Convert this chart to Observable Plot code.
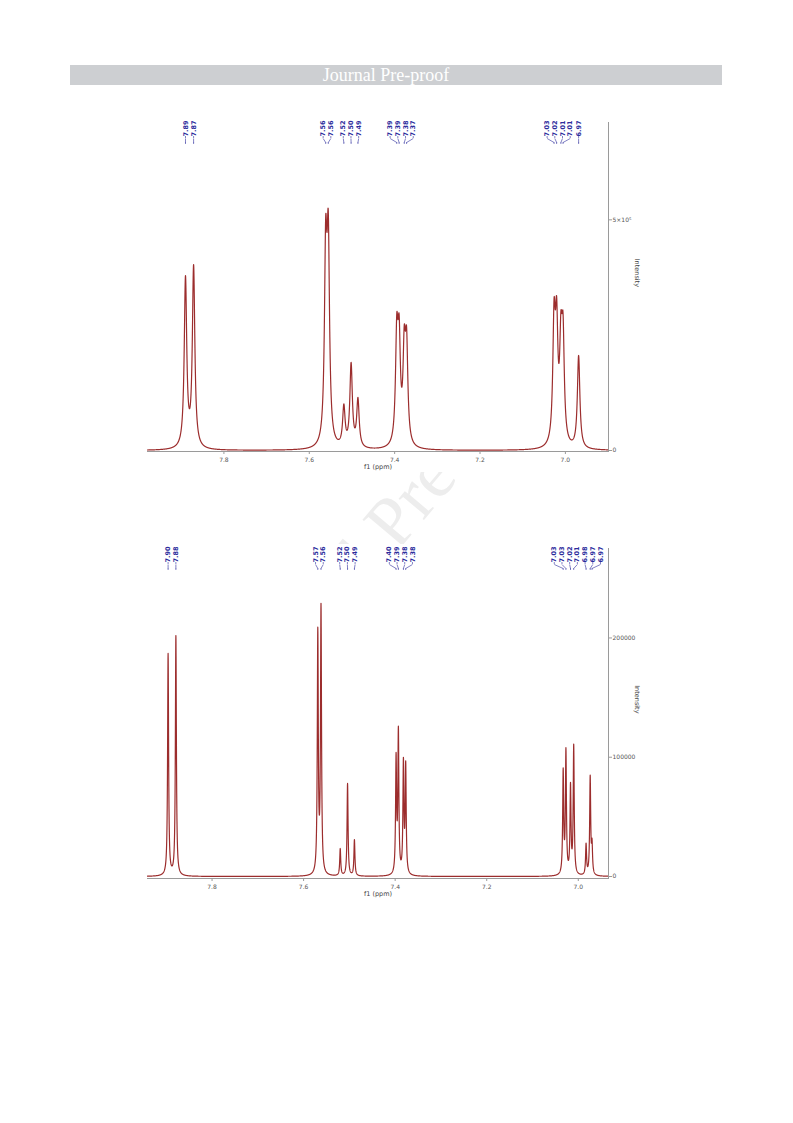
<!DOCTYPE html>
<html><head><meta charset="utf-8">
<script src="https://cdn.jsdelivr.net/npm/d3@7"></script>
<script src="https://cdn.jsdelivr.net/npm/@observablehq/plot@0.6"></script>
<style>
body{margin:0;background:#fff;}
#page{position:relative;width:793px;height:1123px;overflow:hidden;background:#fff;}
#hdr{position:absolute;left:70px;top:65px;width:652px;height:20px;background:#cdcfd2;color:#fff;font-family:"Liberation Serif","DejaVu Serif",serif;font-size:18px;line-height:20px;text-align:center;box-sizing:border-box;padding-right:20px;}
#wm{position:absolute;left:394px;top:519px;transform:translate(-50%,-50%) rotate(-50deg);font-family:"Liberation Serif",serif;font-size:72px;color:#ededed;white-space:nowrap;}
#top{position:absolute;left:0;top:100px;}
#bot{position:absolute;left:0;top:544px;}
</style></head>
<body>
<div id="page">
  <div id="wm">Journal Pre-proof</div>
  <div id="hdr">Journal Pre-proof</div>
  <div id="top"></div>
  <div id="bot"></div>
</div>
<script>
// ---------- DATA ----------
const xTicks = [7.8, 7.6, 7.4, 7.2, 7.0];
const xLabel = "f1 (ppm)";
const yLabel = "Intensity";

// upper spectrum
const topPeakPpm    = [7.890, 7.871, 7.5615, 7.5555, 7.519, 7.502, 7.486, 7.3950, 7.3895, 7.3775, 7.3720, 7.0265, 7.0205, 7.0105, 7.0055, 6.969];
const topPeakHeight = [379000, 403000, 508000, 520000, 101000, 191000, 115000, 297000, 295000, 272000, 268000, 330000, 334000, 302000, 298000, 206000];
const topPeakLabels = ["7.89","7.87","7.56","7.56","7.52","7.50","7.49","7.39","7.39","7.38","7.37","7.03","7.02","7.01","7.01","6.97"];
const topYTicks = [0, 500000];
const topYTickLabels = ["0", "5×10⁵"];
const topXDomain = [7.979, 6.899];
const topYMax = 711000;
const topLineWidth = 0.0035;   // Lorentzian half width (ppm)

// lower spectrum
const botPeakPpm    = [7.896, 7.879, 7.569, 7.562, 7.520, 7.504, 7.489, 7.398, 7.393, 7.382, 7.377, 7.033, 7.027, 7.017, 7.010, 6.983, 6.974, 6.970];
const botPeakHeight = [187000, 202000, 209000, 229000, 23500, 78000, 31000, 104000, 126000, 100000, 97000, 91000, 108000, 79000, 111000, 28000, 85000, 32000];
const botPeakLabels = ["7.90","7.88","7.57","7.56","7.52","7.50","7.49","7.40","7.39","7.38","7.38","7.03","7.03","7.02","7.01","6.98","6.97","6.97"];
const botYTicks = [0, 100000, 200000];
const botYTickLabels = ["0", "100000", "200000"];
const botXDomain = [7.941, 6.934];
const botYMax = 275000;
const botLineWidth = 0.0013;

// ---------- helpers ----------
const lor = (d, g) => 1 / (1 + (d / g) * (d / g));
function solve(M, b) {
  const n = b.length, A = M.map((r, i) => [...r, b[i]]);
  for (let k = 0; k < n; k++) {
    let p = k;
    for (let i = k + 1; i < n; i++) if (Math.abs(A[i][k]) > Math.abs(A[p][k])) p = i;
    [A[k], A[p]] = [A[p], A[k]];
    for (let i = k + 1; i < n; i++) {
      const f = A[i][k] / A[k][k];
      for (let j = k; j <= n; j++) A[i][j] -= f * A[k][j];
    }
  }
  const x = new Array(n).fill(0);
  for (let i = n - 1; i >= 0; i--) {
    let s = A[i][n];
    for (let j = i + 1; j < n; j++) s -= A[i][j] * x[j];
    x[i] = s / A[i][i];
  }
  return x;
}
function spectrum(ppm, heights, g, domain) {
  const M = ppm.map(p => ppm.map(q => lor(p - q, g)));
  const amp = solve(M, heights).map(a => Math.max(0, a));
  const xs = [];
  const hi = Math.max(...domain), lo = Math.min(...domain);
  for (let v = hi; v >= lo; v -= 0.0002) xs.push(v);
  xs.push(...ppm);
  xs.sort((a, b) => b - a);
  return xs.map(x => ({x, y: amp.reduce((s, a, i) => s + a * lor(x - ppm[i], g), 0)}));
}
// spread peak labels so they do not overlap (cluster centring)
function spread(px, gap) {
  let cl = px.map(p => ({sum: p, n: 1}));
  let changed = true;
  while (changed) {
    changed = false;
    for (let i = 0; i < cl.length - 1; i++) {
      const c = cl[i], d = cl[i + 1];
      const cEnd = c.sum / c.n + (c.n - 1) / 2 * gap;
      const dStart = d.sum / d.n - (d.n - 1) / 2 * gap;
      if (dStart - cEnd < gap) { cl.splice(i, 2, {sum: c.sum + d.sum, n: c.n + d.n}); changed = true; break; }
    }
  }
  const out = [];
  for (const c of cl) { const m = c.sum / c.n; for (let k = 0; k < c.n; k++) out.push(m + (k - (c.n - 1) / 2) * gap); }
  return out;
}

const W = 793, ML = 147, MR = 185;
const spectrumColor = "#9c2d2d", labelColor = "#2b2b9c", axisColor = "#9a9a9a", tickText = "#555";

function chart({ppm, heights, labels, g, xDomain, yMax, yTicks, yTickLabels, height, marginTop, marginBottom, insetBottom}) {
  const H = height;
  const xs = Plot.scale({x: {domain: xDomain, range: [ML, W - MR]}});
  const y0 = H - marginBottom - insetBottom;
  const ys = Plot.scale({y: {domain: [0, yMax], range: [y0, marginTop]}});
  const lpx = spread(ppm.map(p => xs.apply(p)), 7.7);
  const lab = labels.map((t, i) => ({label: t, lx: xs.invert(lpx[i]), px: ppm[i]}));
  const yT = ys.invert(marginTop + 14), yA = ys.invert(marginTop + 16), yB = ys.invert(marginTop + 20), yC = ys.invert(marginTop + 22);
  const data = spectrum(ppm, heights, g, xDomain);
  return Plot.plot({
    width: W, height: H, marginLeft: ML, marginRight: MR, marginTop, marginBottom,
    style: {background: "white", fontFamily: "'DejaVu Sans', sans-serif"},
    x: {domain: xDomain, axis: null},
    y: {domain: [0, yMax], axis: null, insetBottom},
    marks: [
      Plot.frame({anchor: "bottom", stroke: axisColor}),
      Plot.frame({anchor: "right", stroke: axisColor}),
      Plot.axisX({ticks: xTicks, tickFormat: d3.format(".1f"), tickSize: 3, tickPadding: 3, fontSize: 6, color: tickText, stroke: axisColor, label: null}),
      Plot.axisY({anchor: "right", ticks: yTicks, tickFormat: d => yTickLabels[yTicks.indexOf(d)], tickSize: 3, tickPadding: 1, fontSize: 6, color: tickText, stroke: axisColor, label: null}),
      Plot.text([xLabel], {frameAnchor: "bottom", dy: 17, fontSize: 6.5, fill: "#444"}),
      Plot.text([yLabel], {frameAnchor: "right", dx: 29, rotate: 90, fontSize: 6.5, fill: "#444"}),
      Plot.line(data, {x: "x", y: "y", stroke: spectrumColor, strokeWidth: 1.2, clip: true}),
      Plot.text(lab, {x: "lx", y: () => yT, text: "label", rotate: -90, textAnchor: "start", fontSize: 6.5, fontWeight: "bold", fill: labelColor}),
      Plot.ruleX(lab, {x: "lx", y1: () => yT, y2: () => yA, stroke: labelColor, strokeWidth: 0.6}),
      Plot.link(lab, {x1: "lx", x2: "px", y1: () => yA, y2: () => yB, stroke: labelColor, strokeWidth: 0.6}),
      Plot.ruleX(lab, {x: "px", y1: () => yB, y2: () => yC, stroke: labelColor, strokeWidth: 0.6})
    ]
  });
}

document.getElementById("top").append(chart({
  ppm: topPeakPpm, heights: topPeakHeight, labels: topPeakLabels, g: topLineWidth,
  xDomain: topXDomain, yMax: topYMax, yTicks: topYTicks, yTickLabels: topYTickLabels,
  height: 372, marginTop: 22, marginBottom: 21, insetBottom: 1
}));
document.getElementById("bot").append(chart({
  ppm: botPeakPpm, heights: botPeakHeight, labels: botPeakLabels, g: botLineWidth,
  xDomain: botXDomain, yMax: botYMax, yTicks: botYTicks, yTickLabels: botYTickLabels,
  height: 366, marginTop: 4, marginBottom: 32, insetBottom: 2
}));
</script>
</body></html>
